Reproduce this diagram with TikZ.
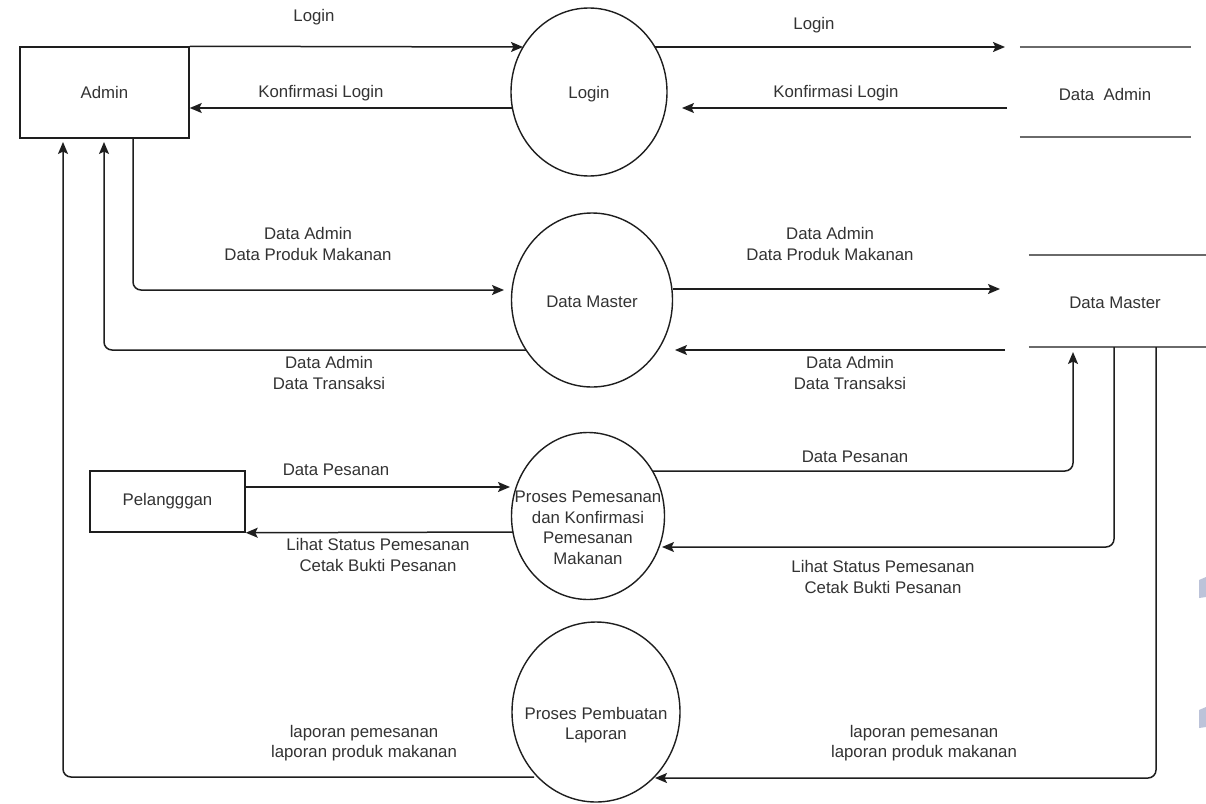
\documentclass[tikz,border=0pt]{standalone}
\usepackage{fontspec}
\setmainfont{Liberation Sans}
\usetikzlibrary{arrows.meta,calc}
\definecolor{linecol}{HTML}{1E1E1E}
\definecolor{storecol}{HTML}{6A6A6A}
\definecolor{textcol}{HTML}{333333}
\definecolor{wmcol}{HTML}{BCC3D9}
\tikzset{
  every node/.style={font=\fontsize{16.8}{20.5}\selectfont, text=textcol, inner sep=0pt},
  entity/.style={draw=linecol, line width=1.5pt, rectangle},
  proctext/.style={align=center},
  procline/.style={draw=linecol, line width=1.4pt},
  store/.style={rectangle},
  storeline/.style={draw=storecol, line width=1.9pt},
  flow/.style={draw=linecol, line width=1.5pt, rounded corners=8pt, -{Stealth[length=12pt,width=10pt,inset=2.5pt]}},
  lbl/.style={align=center}
}
\begin{document}
\begin{tikzpicture}[x=1pt,y=-1pt]
\useasboundingbox (0,0) rectangle (1206,803);
\fill[white] (0,0) rectangle (1206,803);
% watermark fragments
\fill[wmcol] (1199,580) -- (1206,577) -- (1206,597) -- (1199,598) -- cycle;
\fill[wmcol] (1199,710) -- (1206,707) -- (1206,727) -- (1199,728) -- cycle;

% entities
\node[entity, minimum width=169pt, minimum height=91pt] (admin) at (104.5,92.5) {Admin};
\node[entity, minimum width=155pt, minimum height=61pt] (pel) at (167.5,501.5) {Pelangggan};

% processes (circles drawn around named centre coordinates)
\coordinate (loginc) at (589,92);
\coordinate (dmc) at (592,300);
\coordinate (ppc) at (588,516);
\coordinate (lapc) at (596,712);
\draw[procline] (loginc) ellipse [x radius=78pt, y radius=84pt];
\draw[procline] (dmc) ellipse [x radius=80.5pt, y radius=87pt];
\draw[procline] (ppc) ellipse [x radius=76.5pt, y radius=83.5pt];
\draw[procline] (lapc) ellipse [x radius=84pt, y radius=90pt];
\node[proctext] (login) at (589,94) {Login};
\node[proctext] (dm) at (592,302) {Data Master};
\node[proctext] (pp) at (588,528) {Proses Pemesanan\\dan Konfirmasi\\Pemesanan\\Makanan};
\node[proctext] (lap) at (596,725) {Proses Pembuatan\\Laporan};

% data stores
\node[store, minimum width=171pt, minimum height=90pt] (sadmin) at (1105.5,92) {};
\node at (1105,94) {Data\ \ Admin};
\draw[storeline] (sadmin.north west) -- (sadmin.north east);
\draw[storeline] (sadmin.south west) -- (sadmin.south east);
\node[store, minimum width=177pt, minimum height=92pt] (smaster) at (1117.5,301) {};
\node at (1115,303) {Data Master};
\draw[storeline] (smaster.north west) -- (smaster.north east);
\draw[storeline] (smaster.south west) -- (smaster.south east);

% helper coordinates (free ends)
\coordinate (a1) at (523,47);
\coordinate (a2) at (512,108);
\coordinate (a3) at (655,47);
\coordinate (a4) at (1005,47);
\coordinate (a5) at (1007,108);
\coordinate (a6) at (682,108);
\coordinate (b1) at (133,138);
\coordinate (b2) at (504,290);
\coordinate (b3) at (526,350);
\coordinate (b4) at (104,142);
\coordinate (b5) at (673,289);
\coordinate (b6) at (1000,289);
\coordinate (b7) at (1005,350);
\coordinate (b8) at (675,350);
\coordinate (c1) at (510,487);
\coordinate (c2) at (513,532);
\coordinate (c3) at (653,471);
\coordinate (c4) at (1073,352);
\coordinate (c5) at (1114,347);
\coordinate (c6) at (662,547);
\coordinate (c7) at (1156,347);
\coordinate (c8) at (655,778);
\coordinate (d1) at (534,777);
\coordinate (d2) at (63,142);

% flows
\draw[flow] (admin.north east) -- (a1);
\draw[flow] (a2) -- (admin.east |- a2);
\draw[flow] (a3) -- (a4);
\draw[flow] (a5) -- (a6);
\draw[flow] (b1) -- (b1 |- b2) -- (b2);
\draw[flow] (b3) -- (b4 |- b3) -- (b4);
\draw[flow] (b5) -- (b6);
\draw[flow] (b7) -- (b8);
\draw[flow] (pel.east |- c1) -- (c1);
\draw[flow] (c2) -- (pel.south east);
\draw[flow] (c3) -- (c4 |- c3) -- (c4);
\draw[flow] (c5) -- (c5 |- c6) -- (c6);
\draw[flow] (c7) -- (c7 |- c8) -- (c8);
\draw[flow] (d1) -- (d2 |- d1) -- (d2);

% labels
\node[lbl] (t1) at (314,17) {Login};
\node[lbl] (t2) at (321,93) {Konfirmasi Login};
\node[lbl] (t3) at (814,25) {Login};
\node[lbl] (t4) at (836,93) {Konfirmasi Login};
\node[lbl] (t5) at (308,244) {Data Admin\\Data Produk Makanan};
\node[lbl] (t6) at (329,373) {Data Admin\\Data Transaksi};
\node[lbl] (t7) at (830,244) {Data Admin\\Data Produk Makanan};
\node[lbl] (t8) at (850,373) {Data Admin\\Data Transaksi};
\node[lbl] (t9) at (336,470) {Data Pesanan};
\node[lbl] (t10) at (378,555) {Lihat Status Pemesanan\\Cetak Bukti Pesanan};
\node[lbl] (t11) at (855,457) {Data Pesanan};
\node[lbl] (t12) at (883,577) {Lihat Status Pemesanan\\Cetak Bukti Pesanan};
\node[lbl] (t13) at (364,743) {laporan pemesanan\\laporan produk makanan};
\node[lbl] (t14) at (924,743) {laporan pemesanan\\laporan produk makanan};
\end{tikzpicture}
\end{document}
